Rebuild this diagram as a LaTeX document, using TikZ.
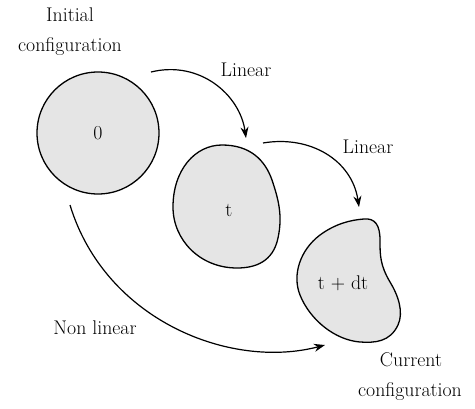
\documentclass[tikz,border=0pt]{standalone}
\usetikzlibrary{arrows.meta}
\begin{document}
\begin{tikzpicture}[x=1pt,y=-1pt,
  body/.style={draw=black,fill=black!10,line width=1.3pt},
  conn/.style={line width=1.2pt,-{Stealth[length=11pt,width=8pt]}},
  lbl/.style={font=\fontsize{19.8}{23}\selectfont,inner sep=0pt},
  btxt/.style={font=\fontsize{19.8}{23}\selectfont,inner sep=0pt}]
\useasboundingbox (0,0) rectangle (475,408);
% initial body
\node[body,circle,minimum size=122pt,inner sep=0pt] (c0) at (98,133) {};
\node[btxt] (t0) at (98,133) {0};
% body t
\draw[body] (222,145) .. controls (250,145) and (265,160) .. (272,180)
  .. controls (278,198) and (283,215) .. (278,238)
  .. controls (273,262) and (255,268) .. (237,268)
  .. controls (200,268) and (173,240) .. (173,207)
  .. controls (173,170) and (195,145) .. (222,145) -- cycle;
\node[btxt] (t1) at (229,210) {t};
% body t+dt
\draw[body] (364,219) .. controls (375,218) and (380,225) .. (380,240)
  .. controls (380,255) and (380,265) .. (390,282)
  .. controls (398,295) and (404,312) .. (398,325)
  .. controls (390,342) and (375,343) .. (360,342)
  .. controls (335,340) and (310,320) .. (300,295)
  .. controls (292,275) and (300,250) .. (320,235)
  .. controls (335,224) and (350,220) .. (364,219) -- cycle;
\node[btxt] (t2) at (343,283) {t + dt};
% labels
\node[lbl] (ini1) at (70,15) {Initial};
\node[lbl] (ini2) at (70,47) {configuration};
\node[lbl] (cur1) at (411,360) {Current};
\node[lbl] (cur2) at (410,392) {configuration};
\node[lbl] (lin1) at (246,70) {Linear};
\node[lbl] (lin2) at (368,147) {Linear};
\node[lbl] (nl) at (95,328) {Non linear};
% connector ends
\coordinate (a1s) at (151,72);
\coordinate (a1e) at (246,138);
\coordinate (a2s) at (263,143);
\coordinate (a2e) at (359,207);
\coordinate (a3s) at (70,205);
\coordinate (a3e) at (325,345);
\draw[conn] (a1s) .. controls (200,60) and (240,95) .. (a1e);
\draw[conn] (a2s) .. controls (310,135) and (352,160) .. (a2e);
\draw[conn] (a3s) .. controls (105,320) and (230,370) .. (a3e);
\end{tikzpicture}
\end{document}
